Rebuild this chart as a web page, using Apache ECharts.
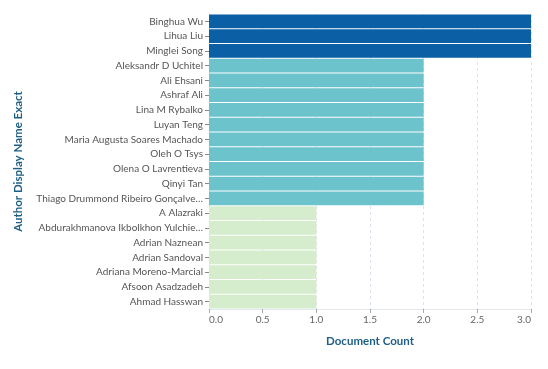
<!DOCTYPE html>
<html><head><meta charset="utf-8">
<script src="https://cdn.jsdelivr.net/npm/echarts@6/dist/echarts.min.js"></script>
<style>html,body{margin:0;padding:0;background:#fff}#c{width:548px;height:369px}</style>
</head><body><div id="c"></div>
<script>
const authors = ["Binghua Wu","Lihua Liu","Minglei Song","Aleksandr D Uchitel","Ali Ehsani","Ashraf Ali","Lina M Rybalko","Luyan Teng","Maria Augusta Soares Machado","Oleh O Tsys","Olena O Lavrentieva","Qinyi Tan","Thiago Drummond Ribeiro Gonçalve…","A Alazraki","Abdurakhmanova Ikbolkhon Yulchie…","Adrian Naznean","Adrian Sandoval","Adriana Moreno-Marcial","Afsoon Asadzadeh","Ahmad Hasswan"];
const counts = [3,3,3,2,2,2,2,2,2,2,2,2,2,1,1,1,1,1,1,1];
const xTicks = [0,0.5,1,1.5,2,2.5,3];
const colorByCount = {3:"#0b5fa5",2:"#6cc3cb",1:"#d5edcd"};
const font = "Lato, 'Open Sans', sans-serif";
const chart = echarts.init(document.getElementById('c'));
chart.setOption({
  animation:false,
  grid:{left:209,right:17,top:14,bottom:60,containLabel:false},
  xAxis:{type:'value',min:xTicks[0],max:xTicks[xTicks.length-1],interval:0.5,
    name:'Document Count',nameLocation:'middle',nameGap:26,
    nameTextStyle:{color:'#1d5f86',fontWeight:'bold',fontSize:11.5,fontFamily:font},
    axisLine:{show:true,lineStyle:{color:'#e3e8ee'}},
    axisTick:{show:true,length:4,lineStyle:{color:'#aaa'}},
    axisLabel:{color:'#666',fontSize:10,fontFamily:font,margin:6,alignMinLabel:'left',alignMaxLabel:'right',formatter:v=>v.toFixed(1)},
    splitLine:{show:true,lineStyle:{color:'#dde3ee',type:[3,3]}}},
  yAxis:{type:'category',data:authors,inverse:true,
    name:'Author Display Name Exact',nameLocation:'middle',nameGap:185,nameRotate:90,
    nameTextStyle:{color:'#1d5f86',fontWeight:'bold',fontSize:11.5,fontFamily:font},
    axisLine:{show:true,lineStyle:{color:'#e3e8ee'}},
    axisTick:{show:true,length:4,alignWithLabel:true,lineStyle:{color:'#888'}},
    axisLabel:{color:'#555',fontSize:10,fontFamily:font,margin:6}},
  series:[{type:'bar',barCategoryGap:'8%',
    data:counts.map(v=>({value:v,itemStyle:{color:colorByCount[v]}}))}]
});
</script></body></html>
